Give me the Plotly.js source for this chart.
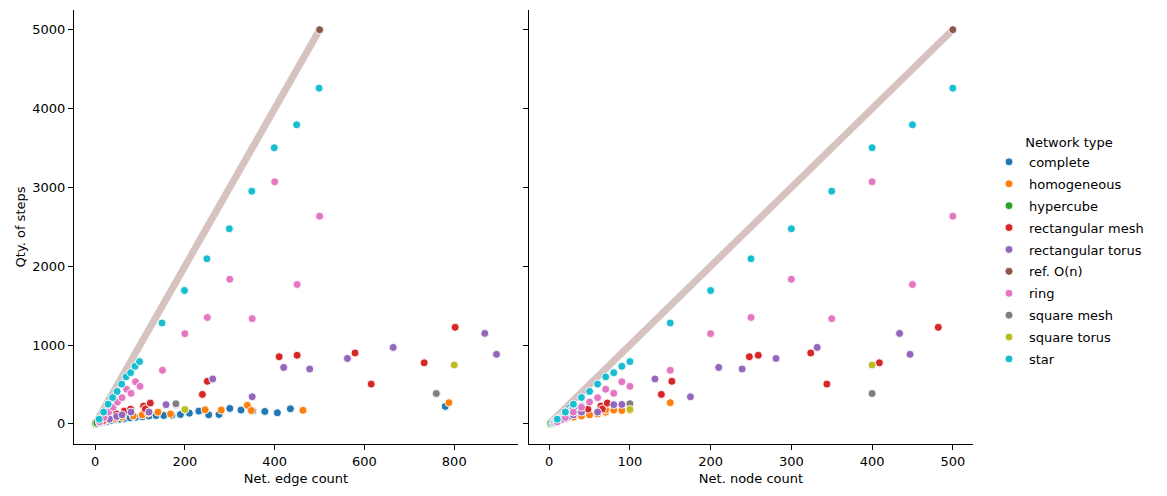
<!DOCTYPE html>
<html>
<head>
<meta charset="utf-8">
<script src="https://cdn.plot.ly/plotly-3.0.1.min.js"></script>
<style>html,body{margin:0;padding:0;background:#fff;}#chart{width:1167px;height:496px;}</style>
</head>
<body>
<div id="chart"></div>
<script>
// ---- data ----
const seriesNames = ["complete", "homogeneous", "hypercube", "rectangular mesh", "rectangular torus",
                     "ref. O(n)", "ring", "square mesh", "square torus", "star"];
const seriesColors = ["#1f77b4", "#ff7f0e", "#2ca02c", "#d62728", "#9467bd",
                      "#8c564b", "#e377c2", "#7f7f7f", "#bcbd22", "#17becf"];

const completeNodes = [5, 6, 7, 8, 9, 10, 11, 12, 13, 14, 15, 16, 17, 18, 19, 20, 21, 22, 23, 24, 25, 26, 27, 28, 29, 30, 40];
const completeEdges = [10, 15, 21, 28, 36, 45, 55, 66, 78, 91, 105, 120, 136, 153, 171, 190, 210, 231, 253, 276, 300, 325, 351, 378, 406, 435, 780];
const completeSteps = [15, 20, 28, 35, 45, 55, 60, 70, 78, 85, 90, 100, 106, 106, 110, 119, 136, 162, 115, 119, 196, 175, 165, 158, 141, 192, 222];

const homogeneousNodes = [10, 20, 30, 40, 50, 60, 60, 70, 70, 80, 90, 90, 100, 150];
const homogeneousEdges = [22, 45, 60, 85, 105, 118, 168, 140, 245, 281, 339, 348, 463, 788];
const homogeneousSteps = [45, 70, 85, 100, 115, 136, 125, 149, 179, 175, 235, 170, 172, 269];

const hypercubeNodes = [2, 4, 8];
const hypercubeEdges = [1, 4, 12];
const hypercubeSteps = [3, 8, 20];

const rectMeshNodes = [12, 20, 30, 40, 48, 64, 66, 72, 139, 152, 248, 259, 324, 344, 409, 482];
const rectMeshEdges = [17, 31, 47, 65, 79, 108, 112, 123, 239, 250, 410, 450, 579, 615, 733, 802];
const rectMeshSteps = [40, 70, 128, 162, 187, 226, 190, 264, 374, 540, 852, 870, 900, 505, 775, 1225];

const rectTorusNodes = [16, 24, 30, 40, 60, 80, 90, 131, 175, 210, 239, 281, 332, 434, 447];
const rectTorusEdges = [32, 48, 60, 80, 120, 158, 180, 262, 350, 420, 478, 562, 664, 868, 894];
const rectTorusSteps = [60, 95, 115, 150, 150, 244, 247, 570, 344, 716, 696, 830, 970, 1148, 882];

const refNodes = [0, 500];
const refEdges = [0, 500];
const refSteps = [0, 5000];

const ringNodes = [10, 20, 30, 40, 50, 60, 70, 80, 90, 100, 150, 200, 250, 300, 350, 400, 450, 500];
const ringEdges = [10, 20, 30, 40, 50, 60, 70, 80, 90, 100, 150, 200, 250, 300, 350, 400, 450, 500];
const ringSteps = [25, 80, 150, 210, 277, 333, 440, 388, 535, 476, 680, 1145, 1350, 1835, 1335, 3071, 1768, 2635];

const squareMeshNodes = [100, 400];
const squareMeshEdges = [180, 760];
const squareMeshSteps = [256, 385];

const squareTorusNodes = [100, 400];
const squareTorusEdges = [200, 800];
const squareTorusSteps = [183, 747];

const starNodes = [10, 20, 30, 40, 50, 60, 70, 80, 90, 100, 150, 200, 250, 300, 350, 400, 450, 500];
const starEdges = [9, 19, 29, 39, 49, 59, 69, 79, 89, 99, 149, 199, 249, 299, 349, 399, 449, 499];
const starSteps = [60, 150, 250, 335, 412, 505, 597, 649, 730, 790, 1280, 1692, 2094, 2475, 2952, 3503, 3794, 4259];

const xTicksEdges = [0, 200, 400, 600, 800];
const xTicksNodes = [0, 100, 200, 300, 400, 500];
const yTicks = [0, 1000, 2000, 3000, 4000, 5000];

// ---- traces ----
const seriesData = {
  "complete": [completeNodes, completeEdges, completeSteps],
  "homogeneous": [homogeneousNodes, homogeneousEdges, homogeneousSteps],
  "hypercube": [hypercubeNodes, hypercubeEdges, hypercubeSteps],
  "rectangular mesh": [rectMeshNodes, rectMeshEdges, rectMeshSteps],
  "rectangular torus": [rectTorusNodes, rectTorusEdges, rectTorusSteps],
  "ring": [ringNodes, ringEdges, ringSteps],
  "square mesh": [squareMeshNodes, squareMeshEdges, squareMeshSteps],
  "square torus": [squareTorusNodes, squareTorusEdges, squareTorusSteps],
  "star": [starNodes, starEdges, starSteps]
};

const marker = (c) => ({color: c, size: 8, line: {color: "#ffffff", width: 0.9}});
const traces = [];

function pushSeries(name, i) {
  const color = seriesColors[i];
  if (name === "ref. O(n)") {
    const last = refSteps.length - 1;
    traces.push({x: [refEdges[last]], y: [refSteps[last]], xaxis: "x", yaxis: "y", mode: "markers", type: "scatter",
      name: name, legendgroup: name, legendrank: i + 1, marker: marker(color)});
    traces.push({x: [refNodes[last]], y: [refSteps[last]], xaxis: "x2", yaxis: "y2", mode: "markers", type: "scatter",
      name: name, legendgroup: name, showlegend: false, marker: marker(color)});
    return;
  }
  const [nodes, edges, steps] = seriesData[name];
  traces.push({x: edges, y: steps, xaxis: "x", yaxis: "y", mode: "markers", type: "scatter",
    name: name, legendgroup: name, legendrank: i + 1, marker: marker(color)});
  traces.push({x: nodes, y: steps, xaxis: "x2", yaxis: "y2", mode: "markers", type: "scatter",
    name: name, legendgroup: name, showlegend: false, marker: marker(color)});
}

// tiny hypercube networks first (hidden under the reference band, as in the picture)
pushSeries("hypercube", seriesNames.indexOf("hypercube"));

// reference band (drawn as a thick faded line), both panels
const bandColor = "rgba(140,86,75,0.36)";
traces.push({x: refEdges, y: refSteps, xaxis: "x", yaxis: "y", mode: "lines", type: "scatter",
  line: {color: bandColor, width: 7}, showlegend: false, hoverinfo: "skip", legendgroup: "ref. O(n)"});
traces.push({x: refNodes, y: refSteps, xaxis: "x2", yaxis: "y2", mode: "lines", type: "scatter",
  line: {color: bandColor, width: 7}, showlegend: false, hoverinfo: "skip", legendgroup: "ref. O(n)"});

seriesNames.forEach((name, i) => { if (name !== "hypercube") pushSeries(name, i); });

const font = {family: "DejaVu Sans, sans-serif", size: 13, color: "#000"};
const axisBase = {
  showline: true, linecolor: "#000", linewidth: 1, mirror: false,
  ticks: "outside", ticklen: 5, tickwidth: 1, tickcolor: "#000",
  showgrid: false, zeroline: false, tickfont: font
};

const layout = {
  width: 1167, height: 496,
  margin: {l: 74, r: 194, t: 10, b: 52},
  paper_bgcolor: "#fff", plot_bgcolor: "#fff",
  font: font,
  showlegend: true,
  xaxis: Object.assign({}, axisBase, {domain: [0, 0.4939], range: [-47, 942], tickvals: xTicksEdges,
    anchor: "y", title: {text: "Net. edge count", font: font, standoff: 6}}),
  xaxis2: Object.assign({}, axisBase, {domain: [0.5061, 1], range: [-25, 525], tickvals: xTicksNodes,
    anchor: "y2", title: {text: "Net. node count", font: font, standoff: 6}}),
  yaxis: Object.assign({}, axisBase, {domain: [0, 1], range: [-255, 5250], tickvals: yTicks,
    anchor: "x", title: {text: "Qty. of steps", font: font, standoff: 3}}),
  yaxis2: Object.assign({}, axisBase, {domain: [0, 1], matches: "y", range: [-255, 5250], tickvals: yTicks,
    anchor: "x2", showticklabels: false}),
  legend: {
    x: 1.0178, xanchor: "left", y: 0.7235, yanchor: "top",
    font: font, bgcolor: "rgba(0,0,0,0)", borderwidth: 0,
    title: {text: "Network type", font: font, side: "top center"},
    traceorder: "grouped", tracegroupgap: 2, itemclick: false, itemdoubleclick: false
  },
  hovermode: false
};

Plotly.newPlot("chart", traces, layout, {displayModeBar: false, staticPlot: true});
</script>
</body>
</html>
